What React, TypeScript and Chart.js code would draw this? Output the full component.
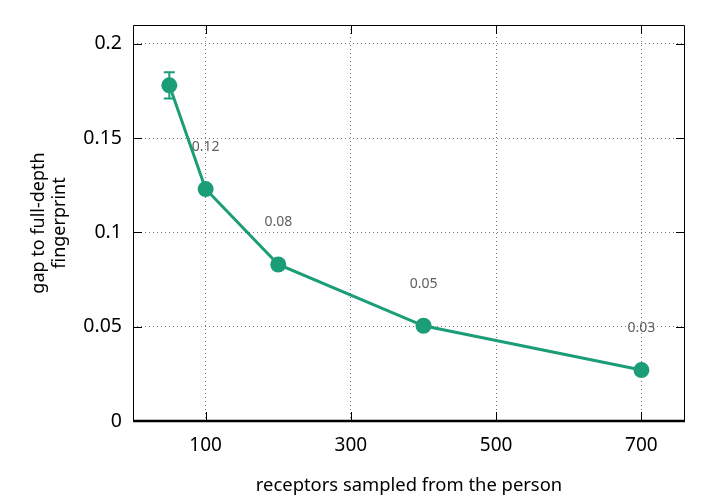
import { useEffect, useRef } from "react";
import { Chart, registerables } from "chart.js";

Chart.register(...registerables);

// values
const receptors = [50, 100, 200, 400, 700];
const gap = [0.178, 0.123, 0.083, 0.0505, 0.027];
const gapError = [0.007, 0, 0, 0, 0];
const pointLabels = ["", "0.12", "0.08", "0.05", "0.03"];
const xTicks = [100, 300, 500, 700];
const yTicks = [0, 0.05, 0.1, 0.15, 0.2];
const yTickLabels = ["0", "0.05", "0.1", "0.15", "0.2"];

const GREEN = "#1b9e77";
const FONT = "'Noto Sans'";

// error bars, value labels, the top/right frame and inward tick marks
const decorations = {
  id: "decorations",
  afterDatasetsDraw(chart: Chart) {
    const { ctx } = chart;
    const x = chart.scales.x;
    const y = chart.scales.y;
    ctx.save();
    ctx.strokeStyle = GREEN;
    ctx.lineWidth = 2;
    receptors.forEach((r, i) => {
      if (!gapError[i]) return;
      const px = x.getPixelForValue(r);
      const top = y.getPixelForValue(gap[i] + gapError[i]);
      const bot = y.getPixelForValue(gap[i] - gapError[i]);
      ctx.beginPath();
      ctx.moveTo(px, top);
      ctx.lineTo(px, bot);
      ctx.moveTo(px - 5.5, top);
      ctx.lineTo(px + 5.5, top);
      ctx.moveTo(px - 5.5, bot);
      ctx.lineTo(px + 5.5, bot);
      ctx.stroke();
    });
    ctx.fillStyle = "#606060";
    ctx.font = `14px ${FONT}`;
    ctx.textAlign = "center";
    ctx.textBaseline = "middle";
    receptors.forEach((r, i) => {
      if (!pointLabels[i]) return;
      ctx.fillText(pointLabels[i], x.getPixelForValue(r), y.getPixelForValue(gap[i]) - 42);
    });
    ctx.restore();
  },
  afterDraw(chart: Chart) {
    const { ctx, chartArea: a } = chart;
    const x = chart.scales.x;
    const y = chart.scales.y;
    const t = 9;
    ctx.save();
    ctx.strokeStyle = "#000";
    ctx.lineWidth = 1;
    ctx.beginPath();
    ctx.moveTo(a.left + 0.5, a.bottom);
    ctx.lineTo(a.left + 0.5, a.top + 0.5);
    ctx.lineTo(a.right - 0.5, a.top + 0.5);
    ctx.lineTo(a.right - 0.5, a.bottom);
    xTicks.forEach((v) => {
      const px = Math.round(x.getPixelForValue(v)) + 0.5;
      ctx.moveTo(px, a.bottom);
      ctx.lineTo(px, a.bottom - t);
      ctx.moveTo(px, a.top);
      ctx.lineTo(px, a.top + t);
    });
    yTicks.forEach((v) => {
      if (v === 0) return;
      const py = Math.round(y.getPixelForValue(v)) + 0.5;
      ctx.moveTo(a.left, py);
      ctx.lineTo(a.left + t, py);
      ctx.moveTo(a.right, py);
      ctx.lineTo(a.right - t, py);
    });
    ctx.stroke();
    ctx.lineWidth = 2.5;
    ctx.beginPath();
    ctx.moveTo(a.left, a.bottom);
    ctx.lineTo(a.right, a.bottom);
    ctx.stroke();
    ctx.restore();
  },
};

const GapChart = () => {
  const canvasRef = useRef<HTMLCanvasElement>(null);

  useEffect(() => {
    if (!canvasRef.current) return;
    const chart = new Chart(canvasRef.current, {
      type: "line",
      data: {
        datasets: [
          {
            data: receptors.map((r, i) => ({ x: r, y: gap[i] })),
            borderColor: GREEN,
            backgroundColor: GREEN,
            borderWidth: 3,
            pointRadius: 8,
            pointBackgroundColor: GREEN,
            pointBorderWidth: 0,
            tension: 0,
          },
        ],
      },
      options: {
        animation: false,
        responsive: true,
        maintainAspectRatio: false,
        layout: { padding: { top: 25, right: 35, left: 0, bottom: 0 } },
        plugins: {
          legend: { display: false },
          tooltip: { enabled: false },
        },
        scales: {
          x: {
            type: "linear",
            min: 0,
            max: 760,
            afterBuildTicks: (scale: any) => {
              scale.ticks = xTicks.map((v) => ({ value: v }));
            },
            afterFit: (scale: any) => {
              scale.height = 79;
            },
            ticks: {
              color: "#000",
              font: { family: FONT, size: 19 },
              padding: 13,
              callback: (v: any) => String(v),
            },
            grid: {
              drawTicks: false,
              color: "#777",
              lineWidth: 1,
            },
            border: { display: false, dash: [1, 3] },
            title: {
              display: true,
              text: "receptors sampled from the person",
              color: "#000",
              font: { family: FONT, size: 18.4 },
              padding: { bottom: 3 },
            },
          },
          y: {
            type: "linear",
            min: 0,
            max: 0.21,
            afterBuildTicks: (scale: any) => {
              scale.ticks = yTicks.map((v) => ({ value: v }));
            },
            afterFit: (scale: any) => {
              scale.width = 133;
            },
            ticks: {
              color: "#000",
              font: { family: FONT, size: 19.5 },
              padding: 11,
              callback: (_v: any, i: number) => yTickLabels[i],
            },
            grid: {
              drawTicks: false,
              color: (c: any) => (c.tick && c.tick.value === 0 ? "rgba(0,0,0,0)" : "#777"),
              lineWidth: 1,
            },
            border: { display: false, dash: [1, 3] },
            title: {
              display: true,
              text: ["gap to full-depth", "fingerprint"],
              color: "#000",
              font: { family: FONT, size: 18, lineHeight: 1.17 },
              padding: { top: 28 },
            },
          },
        },
      },
      plugins: [decorations],
    });
    return () => chart.destroy();
  }, []);

  return (
    <div style={{ position: "absolute", left: 0, top: 0, width: 720, height: 500, background: "#fff" }}>
      <canvas ref={canvasRef}></canvas>
    </div>
  );
};

export default function App() {
  return <GapChart />;
}
